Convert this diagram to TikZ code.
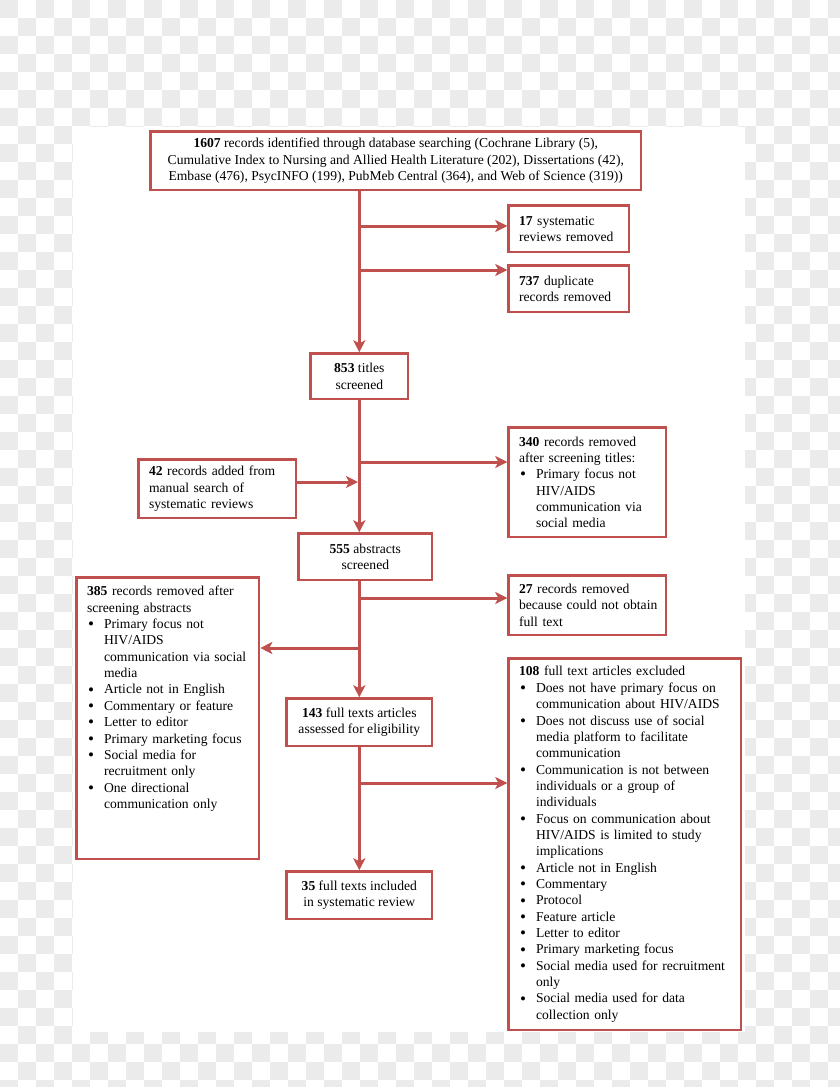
\documentclass[tikz,border=0pt]{standalone}
\usepackage{fontspec}
\setmainfont{Liberation Serif}
\usetikzlibrary{arrows.meta,calc}
\definecolor{bred}{HTML}{C0504D}
\definecolor{chk}{HTML}{EBEBEB}
\newcommand{\bul}{\par\hangindent=17pt\hangafter=1\noindent\makebox[17pt][l]{\hspace{1pt}\raisebox{-1.2pt}{\fontsize{17}{17}\selectfont\textbullet}}}
\newcommand{\lpad}{\leftskip=10.5pt\hyphenpenalty=10000\exhyphenpenalty=10000\noindent}
\begin{document}
\begin{tikzpicture}[x=1pt,y=-1pt,
  box/.style={draw=bred, line width=2.6pt, fill=white, inner xsep=10.5pt, inner ysep=0pt,
    font=\fontsize{13.6}{16.35}\selectfont, anchor=north west},
  cbox/.style={box, align=center},
  lbox/.style={box, align=left, inner xsep=0pt},
  conn/.style={draw=bred, line width=3pt, -{Stealth[length=12pt,width=12pt,inset=3pt]}}]
\useasboundingbox (0,0) rectangle (840,1087);
% transparency checkerboard background
\foreach \i in {0,...,46} \foreach \j in {0,...,60} {%
  \pgfmathtruncatemacro\p{mod(\i+\j,2)}%
  \ifnum\p=0 \fill[chk] (\i*18,\j*18) rectangle ++(18,18);\fi}
\fill[white] (73,127) rectangle (745,1032);

% nodes
\node[cbox, minimum width=490.4pt, minimum height=58.4pt] (top) at (149.3,130.3)
  {\textbf{1607} records identified through database searching (Cochrane Library (5),\\
   Cumulative Index to Nursing and Allied Health Literature (202), Dissertations (42),\\
   Embase (476), PsycINFO (199), PubMeb Central (364), and Web of Science (319))};
\node[lbox, minimum width=120.4pt, minimum height=46.4pt, text width=120.4pt] (b17) at (507.3,204.3)
  {\lpad\textbf{17} systematic\newline reviews removed\par};
\node[lbox, minimum width=120.4pt, minimum height=46.4pt, text width=120.4pt] (b737) at (507.3,264.3)
  {\lpad\textbf{737} duplicate\newline records removed\par};
\node[cbox, minimum width=97.4pt, minimum height=45.4pt] (t853) at (309.3,352.3)
  {\textbf{853} titles\\screened};
\node[lbox, minimum width=157.4pt, minimum height=58.4pt, text width=157.4pt] (b42) at (137.3,458.3)
  {\lpad\textbf{42} records added from\newline manual search of\newline systematic reviews\par};
\node[lbox, minimum width=157.4pt, minimum height=109.4pt, text width=157.4pt] (b340) at (507.3,426.3)
  {\lpad\textbf{340} records removed\newline after screening titles:
   \bul Primary focus not\newline HIV/AIDS\newline communication via\newline social media\par};
\node[cbox, minimum width=133.4pt, minimum height=46.4pt] (t555) at (297.3,532.3)
  {\textbf{555} abstracts\\screened};
\node[lbox, minimum width=182.4pt, minimum height=281.4pt, text width=182.4pt] (b385) at (75.3,576.3)
  {\lpad\textbf{385} records removed after\newline screening abstracts
   \bul Primary focus not\newline HIV/AIDS\newline communication via social\newline media
   \bul Article not in English
   \bul Commentary or feature
   \bul Letter to editor
   \bul Primary marketing focus
   \bul Social media for\newline recruitment only
   \bul One directional\newline communication only\par\vskip39pt\nointerlineskip\hbox{}};
\node[lbox, minimum width=157.4pt, minimum height=59.4pt, text width=157.4pt] (b27) at (507.3,574.3)
  {\lpad\textbf{27} records removed\newline because could not obtain\newline full text\par};
\node[cbox, minimum width=145.4pt, minimum height=47.4pt] (t143) at (285.3,697.3)
  {\textbf{143} full texts articles\\assessed for eligibility};
\node[lbox, minimum width=232.4pt, minimum height=371.4pt, text width=232.4pt] (b108) at (507.3,657.3)
  {\lpad\textbf{108} full text articles excluded
   \bul Does not have primary focus on\newline communication about HIV/AIDS
   \bul Does not discuss use of social\newline media platform to facilitate\newline communication
   \bul Communication is not between\newline individuals or a group of\newline individuals
   \bul Focus on communication about\newline HIV/AIDS is limited to study\newline implications
   \bul Article not in English
   \bul Commentary
   \bul Protocol
   \bul Feature article
   \bul Letter to editor
   \bul Primary marketing focus
   \bul Social media used for recruitment\newline only
   \bul Social media used for data\newline collection only\par};
\node[cbox, minimum width=145.4pt, minimum height=47.4pt] (t35) at (285.3,870.3)
  {\textbf{35} full texts included\\in systematic review};

% junctions on the main line
\coordinate (j17) at (358,226);
\coordinate (j737) at (358,270);
\coordinate (j340) at (358,462);
\coordinate (j42) at (358,482);
\coordinate (j27) at (358,598);
\coordinate (j385) at (358,648);
\coordinate (j108) at (358,783);

% connectors
\draw[conn] (top.south -| t853.north) -- (t853.north);
\draw[conn] (j17) -- (j17 -| b17.west);
\draw[conn] (j737) -- (j737 -| b737.west);
\draw[conn] (t853.south) -- (t853.south |- t555.north);
\draw[conn] (j340) -- (j340 -| b340.west);
\draw[conn] (j42 -| b42.east) -- (j42);
\draw[conn] (t555.south -| t853.south) -- (t143.north);
\draw[conn] (j27) -- (j27 -| b27.west);
\draw[conn] (j385) -- (j385 -| b385.east);
\draw[conn] (t143.south) -- (t35.north);
\draw[conn] (j108) -- (j108 -| b108.west);
\end{tikzpicture}
\end{document}
